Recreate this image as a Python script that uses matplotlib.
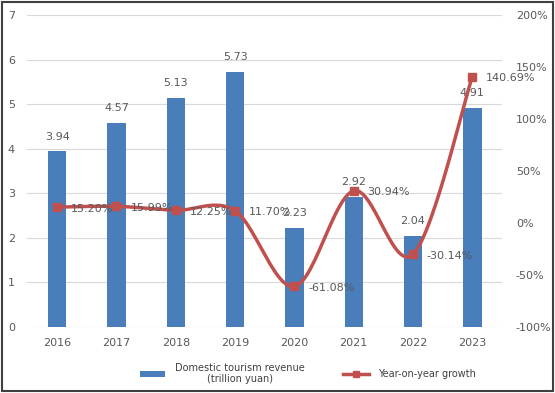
import numpy as np
import matplotlib.pyplot as plt
from matplotlib.lines import Line2D
from matplotlib.patches import Patch, Rectangle

years = ['2016', '2017', '2018', '2019', '2020', '2021', '2022', '2023']
revenue = [3.94, 4.57, 5.13, 5.73, 2.23, 2.92, 2.04, 4.91]
growth = [15.20, 15.99, 12.25, 11.70, -61.08, 30.94, -30.14, 140.69]

BLUE = '#4A7EBB'
RED = '#C0504D'
GRAY = '#595959'

plt.rcParams['font.family'] = ['DejaVu Sans']


def smooth_curve(x, y, n=30):
    # Excel-style smoothed line: cubic bezier through the points (Catmull-Rom)
    x = np.asarray(x, float)
    y = np.asarray(y, float)
    pts = np.column_stack([x, y])
    ext = np.vstack([pts[0], pts, pts[-1]])
    out = []
    t = np.linspace(0, 1, n)[:, None]
    for i in range(len(pts) - 1):
        p0, p1, p2, p3 = ext[i], ext[i + 1], ext[i + 2], ext[i + 3]
        c1 = p1 + (p2 - p0) / 6.0
        c2 = p2 - (p3 - p1) / 6.0
        seg = ((1 - t) ** 3) * p1 + 3 * ((1 - t) ** 2) * t * c1 + 3 * (1 - t) * t ** 2 * c2 + t ** 3 * p2
        out.append(seg if i == 0 else seg[1:])
    out = np.vstack(out)
    return out[:, 0], out[:, 1]


fig = plt.figure(figsize=(5.55, 3.93), dpi=100)
ax = fig.add_axes([0.0495, 0.168, 0.855, 0.794])
x = np.arange(len(years))

ax.bar(x, revenue, width=0.31, color=BLUE, zorder=2)
for xi, v in zip(x, revenue):
    ax.text(xi, v + 0.22, f'{v:.2f}', ha='center', va='bottom', fontsize=8, color=GRAY, zorder=5)

ax.set_ylim(0, 7)
ax.set_xlim(-0.5, len(years) - 0.5)
ax.set_yticks(range(0, 8))
ax.set_xticks(x)
ax.set_xticklabels(years)
ax.grid(axis='y', color='#D9D9D9', lw=0.8, zorder=0)
ax.set_axisbelow(True)
for s in ax.spines.values():
    s.set_visible(False)
ax.tick_params(length=0, labelsize=8, colors=GRAY, pad=8)
ax.tick_params(axis='y', pad=9)

ax2 = ax.twinx()
ax2.set_ylim(-100, 200)
ax2.set_yticks(range(-100, 201, 50))
ax2.set_yticklabels([f'{v}%' for v in range(-100, 201, 50)])
for s in ax2.spines.values():
    s.set_visible(False)
ax2.tick_params(length=0, labelsize=8, colors=GRAY, pad=10)

sx, sy = smooth_curve(x, growth)
ax2.plot(sx, sy, color=RED, lw=2.5, zorder=3, solid_capstyle='round')
ax2.plot(x, growth, 's', color=RED, ms=6, zorder=4)
for xi, g in zip(x, growth):
    ax2.annotate(f'{g:.2f}%', (xi, g), xytext=(10, -1), textcoords='offset points',
                 ha='left', va='center', fontsize=8, color=GRAY, zorder=6)

handles = [Patch(facecolor=BLUE, edgecolor='none'),
           Line2D([0], [0], color=RED, lw=2.5, marker='s', ms=5)]
labels = ['Domestic tourism revenue\n(trillion yuan)', 'Year-on-year growth']
leg = fig.legend(handles, labels, loc='center', bbox_to_anchor=(0.555, 0.05), ncol=2,
                 frameon=False, fontsize=7, labelcolor='#404040', handlelength=2.6,
                 columnspacing=4.0, handletextpad=1.0)
for t in leg.get_texts():
    t.set_multialignment('center')

fig.patches.append(Rectangle((0.003, 0.004), 0.994, 0.992, transform=fig.transFigure,
                             fill=False, edgecolor='#404040', lw=1.5))

fig.savefig('out.png', dpi=100)
